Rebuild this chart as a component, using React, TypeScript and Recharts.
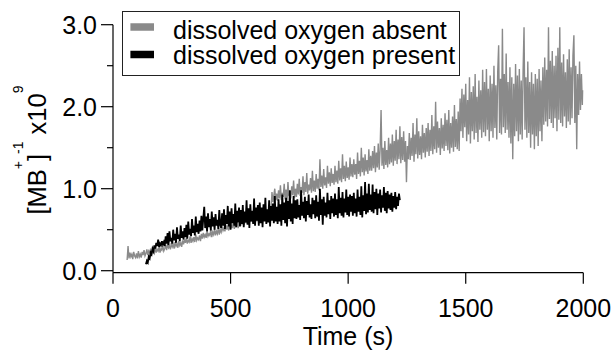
import { LineChart, Line, XAxis, YAxis, Legend } from "recharts";

const FONT = "'Liberation Sans', Arial, sans-serif";

// sampling: both traces read every 4 s
const DT = 4;
const ABSENT_T0 = 60;
const PRESENT_T0 = 140;

const absentValues = [
  0.13, 0.30, 0.15, 0.22, 0.17, 0.20, 0.14, 0.23, 0.18, 0.16, 0.21, 0.15, 0.24, 0.17, 0.20, 0.16, 0.23, 0.19, 0.25, 0.18,
  0.21, 0.26, 0.19, 0.24, 0.22, 0.27, 0.20, 0.25, 0.23, 0.21, 0.28, 0.22, 0.26, 0.24, 0.29, 0.22, 0.27, 0.25, 0.30, 0.24,
  0.27, 0.31, 0.25, 0.33, 0.28, 0.30, 0.26, 0.34, 0.29, 0.32, 0.27, 0.35, 0.30, 0.33, 0.28, 0.36, 0.31, 0.34, 0.29, 0.37,
  0.32, 0.38, 0.34, 0.40, 0.33, 0.37, 0.35, 0.42, 0.34, 0.39, 0.36, 0.41, 0.35, 0.44, 0.37, 0.40, 0.38, 0.43, 0.36, 0.45,
  0.39, 0.46, 0.41, 0.44, 0.40, 0.48, 0.42, 0.45, 0.43, 0.50, 0.41, 0.47, 0.44, 0.51, 0.43, 0.48, 0.45, 0.53, 0.44, 0.50,
  0.47, 0.54, 0.49, 0.52, 0.48, 0.56, 0.50, 0.55, 0.49, 0.58, 0.51, 0.56, 0.52, 0.60, 0.51, 0.57, 0.53, 0.61, 0.52, 0.59,
  0.55, 0.62, 0.57, 0.60, 0.56, 0.64, 0.58, 0.63, 0.57, 0.66, 0.59, 0.64, 0.60, 0.68, 0.59, 0.65, 0.61, 0.70, 0.60, 0.67,
  0.62, 0.69, 0.63, 0.71, 0.64, 0.68, 0.65, 0.73, 0.64, 0.70, 0.66, 0.74, 0.65, 0.72, 0.96, 0.84, 0.92, 1.00, 0.86, 0.94,
  0.85, 0.98, 0.88, 1.04, 0.86, 0.95, 0.90, 1.06, 0.87, 0.99, 0.84, 1.08, 0.91, 0.97, 0.88, 1.03, 0.92, 1.10, 0.89, 1.00,
  0.90, 1.06, 0.93, 1.12, 0.91, 1.02, 0.95, 1.15, 0.92, 1.08, 0.96, 1.19, 0.94, 1.05, 0.98, 1.13, 0.95, 1.22, 0.97, 1.10,
  0.96, 1.18, 1.00, 1.12, 0.98, 1.36, 1.02, 1.16, 1.00, 1.24, 1.04, 1.14, 1.01, 1.28, 1.06, 1.20, 1.03, 1.25, 1.07, 1.18,
  1.05, 1.28, 1.08, 1.22, 1.06, 1.34, 1.10, 1.25, 1.08, 1.42, 1.12, 1.28, 1.09, 1.33, 1.13, 1.26, 1.11, 1.38, 1.15, 1.30,
  1.14, 1.36, 1.17, 1.30, 1.12, 1.44, 1.18, 1.34, 1.15, 1.50, 1.20, 1.38, 1.16, 1.42, 1.21, 1.35, 1.18, 1.48, 1.22, 1.40,
  1.22, 1.46, 1.25, 1.52, 1.20, 1.44, 1.26, 1.55, 1.23, 1.48, 1.96, 1.28, 1.50, 1.24, 1.58, 1.29, 1.47, 1.26, 1.62, 1.30,
  1.55, 1.32, 1.66, 1.28, 1.58, 1.34, 1.72, 1.30, 1.60, 1.36, 1.76, 1.31, 1.63, 1.35, 1.70, 1.33, 1.58, 1.08, 1.52, 1.36,
  1.68, 1.35, 1.62, 1.40, 1.80, 1.33, 1.66, 1.42, 1.86, 1.37, 1.70, 1.41, 1.64, 1.36, 1.78, 1.44, 1.68, 1.38, 1.74, 1.45,
  1.80, 1.40, 1.72, 1.46, 1.90, 1.42, 1.76, 1.48, 2.06, 1.44, 1.82, 1.50, 1.74, 1.41, 1.86, 1.49, 1.78, 1.46, 1.92, 1.52,
  1.84, 1.47, 1.96, 1.43, 1.80, 1.50, 1.88, 1.45, 2.02, 1.51, 1.85, 1.48, 1.94, 1.46, 2.10, 1.70, 2.22, 1.62, 2.15, 1.75,
  2.28, 1.58, 2.08, 1.66, 2.36, 1.55, 2.18, 1.70, 2.25, 1.60, 2.40, 1.68, 2.12, 1.57, 2.32, 1.72, 2.20, 1.62, 2.45, 1.69,
  2.30, 1.64, 2.46, 1.72, 2.22, 1.58, 2.38, 1.70, 2.28, 1.62, 2.50, 1.74, 2.26, 1.60, 2.42, 2.75, 1.68, 2.34, 1.66, 2.95,
  1.75, 2.40, 1.68, 2.65, 1.72, 2.30, 1.62, 2.48, 1.55, 2.36, 1.36, 2.28, 1.64, 2.52, 1.70, 2.38, 1.58, 2.46, 1.66, 2.32,
  1.60, 2.44, 2.97, 1.72, 2.36, 1.62, 2.55, 1.68, 2.30, 1.50, 2.42, 1.66, 2.28, 1.48, 2.40, 1.64, 2.34, 1.52, 2.46, 1.70,
  2.32, 1.58, 2.48, 1.78, 2.60, 1.82, 2.45, 1.76, 2.97, 1.85, 2.56, 1.80, 2.68, 1.74, 2.50, 1.86, 2.62, 1.70, 2.72, 1.84,
  2.97, 1.80, 2.54, 1.76, 2.64, 1.88, 2.42, 1.74, 2.58, 1.82, 2.70, 1.78, 2.48, 1.86, 2.62, 2.87, 1.80, 2.50, 1.48, 2.40,
  1.90, 2.55, 1.96, 2.40, 2.02, 2.20,
];

const presentValues = [
  0.08, 0.12, 0.10, 0.17, 0.15, 0.22, 0.20, 0.27, 0.24, 0.31, 0.27, 0.34, 0.30, 0.38, 0.29, 0.33, 0.31, 0.36, 0.32, 0.35,
  0.30, 0.42, 0.33, 0.46, 0.31, 0.48, 0.36, 0.40, 0.33, 0.50, 0.37, 0.45, 0.34, 0.53, 0.39, 0.44, 0.36, 0.55, 0.40, 0.48,
  0.38, 0.52, 0.41, 0.56, 0.39, 0.60, 0.44, 0.51, 0.42, 0.63, 0.46, 0.55, 0.43, 0.66, 0.47, 0.57, 0.45, 0.61, 0.48, 0.67,
  0.49, 0.64, 0.78, 0.52, 0.66, 0.48, 0.70, 0.53, 0.63, 0.49, 0.72, 0.54, 0.65, 0.50, 0.69, 0.55, 0.62, 0.51, 0.74, 0.56,
  0.52, 0.70, 0.55, 0.75, 0.51, 0.68, 0.57, 0.79, 0.54, 0.72, 0.50, 0.76, 0.58, 0.69, 0.55, 0.82, 0.53, 0.73, 0.59, 0.77,
  0.54, 0.74, 0.57, 0.80, 0.53, 0.72, 0.59, 0.86, 0.56, 0.76, 0.52, 0.81, 0.60, 0.73, 0.57, 0.88, 0.55, 0.77, 0.61, 0.80,
  0.55, 0.83, 0.58, 0.77, 0.53, 0.81, 0.60, 0.89, 0.57, 0.75, 0.59, 0.86, 0.54, 0.79, 0.61, 0.82, 0.58, 0.91, 0.60, 0.78,
  0.57, 0.87, 0.60, 0.81, 0.55, 0.93, 0.62, 0.83, 0.58, 0.89, 0.54, 0.85, 0.63, 0.98, 0.60, 0.82, 0.57, 0.91, 0.64, 0.86,
  0.63, 0.87, 0.65, 0.80, 0.62, 0.98, 0.67, 0.84, 0.64, 0.90, 0.60, 0.85, 0.68, 0.93, 0.65, 0.81, 0.63, 0.89, 0.69, 0.86,
  0.64, 0.92, 0.66, 0.84, 0.61, 1.00, 0.68, 0.87, 0.56, 0.90, 0.67, 0.83, 0.65, 0.95, 0.69, 0.86, 0.63, 0.91, 0.70, 0.88,
  0.66, 0.94, 0.68, 0.87, 0.64, 1.02, 0.70, 0.89, 0.67, 0.96, 0.65, 0.88, 0.71, 0.99, 0.68, 0.90, 0.66, 0.93, 0.72, 0.91,
  0.67, 0.95, 0.70, 0.88, 0.66, 0.99, 0.72, 0.90, 0.68, 1.03, 0.65, 0.92, 0.73, 1.08, 0.69, 0.94, 0.71, 1.06, 0.74, 0.93,
  0.72, 1.05, 0.70, 0.96, 0.75, 1.00, 0.68, 0.94, 0.76, 0.99, 0.71, 0.92, 0.77, 1.02, 0.73, 0.95, 0.70, 0.97, 0.76, 0.93,
  0.74, 0.95, 0.72, 0.91, 0.77, 0.96, 0.75, 0.90, 0.79, 0.94, 0.86,
];

const xTicks = [0, 500, 1000, 1500, 2000];
const yTicks = [0, 0.5, 1, 1.5, 2, 2.5, 3];
const yTickLabels = ["0.0", "1.0", "2.0", "3.0"];

const absent = absentValues.map((v, i) => ({ t: ABSENT_T0 + i * DT, v }));
const present = presentValues.map((v, i) => ({ t: PRESENT_T0 + i * DT, v }));

function XTick({ x, y, payload }: any) {
  return (
    <g>
      <line x1={x} x2={x} y1={y} y2={y + 11} stroke="#000" strokeWidth={1.2} />
      <text x={x} y={y + 44.6} textAnchor="middle" fontSize={25} fontFamily={FONT} fill="#000">
        {payload.value}
      </text>
    </g>
  );
}

function YTick({ x, y, payload }: any) {
  const v = payload.value;
  const major = Number.isInteger(v);
  return (
    <g>
      <line x1={x - (major ? 12 : 6)} x2={x} y1={y} y2={y} stroke="#000" strokeWidth={1.2} />
      {major && (
        <text x={x - 16} y={y + 9} textAnchor="end" fontSize={25} fontFamily={FONT} fill="#000">
          {yTickLabels[v]}
        </text>
      )}
    </g>
  );
}

function YTitle() {
  const cx = 46;
  const cy = 150;
  return (
    <text x={cx} y={cy} transform={`rotate(-90, ${cx}, ${cy})`} textAnchor="middle" fontSize={25.5} fontFamily={FONT} fill="#000">
      [MB
      <tspan dy={-23} fontSize={14}>+</tspan>
      <tspan dy={23}>]</tspan>
      <tspan dy={-23} fontSize={14}>-1</tspan>
      <tspan dy={23}>{" x10"}</tspan>
      <tspan dy={-23} fontSize={14}>9</tspan>
    </text>
  );
}

function XTitle() {
  return (
    <text x={348} y={345} textAnchor="middle" fontSize={25} fontFamily={FONT} fill="#000">
      Time (s)
    </text>
  );
}

function LegendBox({ payload }: any) {
  const items = payload || [];
  return (
    <svg width={338} height={65} style={{ display: "block" }}>
      <rect x={0.5} y={0.5} width={337} height={64} fill="#fff" stroke="#222" strokeWidth={1} />
      {items.map((it: any, i: number) => (
        <g key={it.value}>
          <line x1={8.4} x2={32} y1={16 + i * 27.5} y2={16 + i * 27.5} stroke={it.color} strokeWidth={7.5} />
          <text x={51} y={27.6 + i * 25.8} fontSize={25} fontFamily={FONT} fill="#000">
            {it.value}
          </text>
        </g>
      ))}
    </svg>
  );
}

export default function App() {
  return (
    <div style={{ position: "absolute", left: 0, top: 0, background: "#fff" }}>
      <LineChart width={613} height={350} margin={{ top: 24.7, right: 29.7, bottom: 0, left: 0 }}>
        <XAxis
          dataKey="t"
          type="number"
          domain={[0, 2000]}
          ticks={xTicks}
          height={77.3}
          tickSize={0}
          tickMargin={0}
          tick={<XTick />}
          tickLine={false}
          axisLine={{ stroke: "#000", strokeWidth: 1.2 }}
          label={<XTitle />}
          allowDataOverflow
        />
        <YAxis
          type="number"
          domain={[-0.0244, 3]}
          ticks={yTicks}
          width={113}
          tickSize={0}
          tickMargin={0}
          tick={<YTick />}
          tickLine={false}
          axisLine={{ stroke: "#000", strokeWidth: 1.2 }}
          label={<YTitle />}
          interval={0}
          allowDataOverflow
        />
        <Legend
          layout="vertical"
          align="center"
          verticalAlign="middle"
          content={<LegendBox />}
          wrapperStyle={{ position: "absolute", left: 122, top: 11, width: 338, height: 65 }}
        />
        <Line data={absent} dataKey="v" name="dissolved oxygen absent" type="linear" stroke="#8a8a8a" strokeWidth={1.4} dot={false} isAnimationActive={false} />
        <Line data={present} dataKey="v" name="dissolved oxygen present" type="linear" stroke="#000" strokeWidth={1.8} dot={false} isAnimationActive={false} />
      </LineChart>
    </div>
  );
}
